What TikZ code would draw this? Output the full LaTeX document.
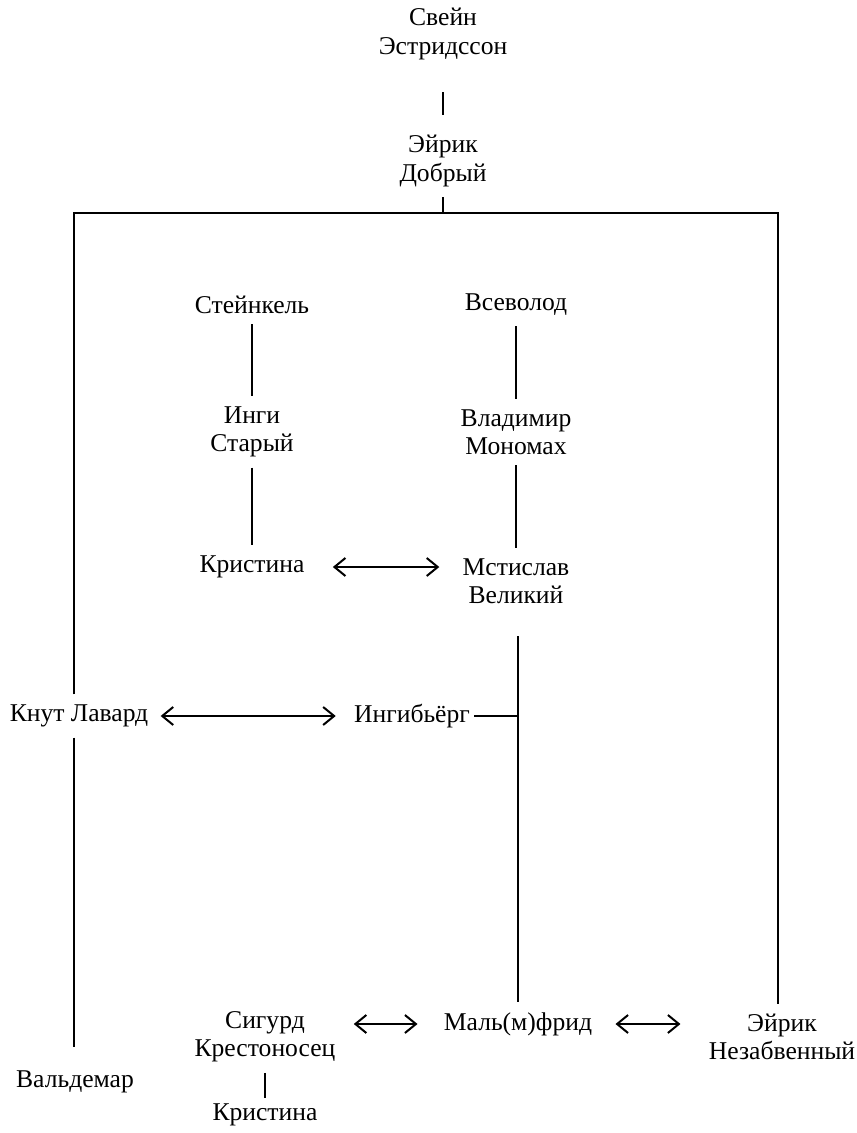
\documentclass[tikz,border=0pt]{standalone}
\usepackage{fontspec}
\setmainfont{Liberation Serif}
\usetikzlibrary{arrows.meta}

\begin{document}
\begin{tikzpicture}[x=0.5pt,y=-0.5pt,>={Straight Barb[length=5.5pt,width=9pt]},
  person/.style={align=center,inner sep=5pt,font=\fontsize{12.8}{14.2}\selectfont},
  kin/.style={line width=1pt},
  wed/.style={kin,<->}]
\useasboundingbox (0,0) rectangle (856,1133);
\node[person] (sven) at (443,34) {Свейн\\Эстридссон};
\node[person] (eirik) at (443,161) {Эйрик\\Добрый};
\node[person] (stein) at (252,305) {Стейнкель};
\node[person] (ingi) at (252,432) {Инги\\Старый};
\node[person] (kris) at (252,567) {Кристина};
\node[person] (vsev) at (516,305) {Всеволод};
\node[person] (vlad) at (516,432) {Владимир\\Мономах};
\node[person] (msti) at (516,581) {Мстислав\\Великий};
\node[person] (knut) at (79,716) {Кнут Лавард};
\node[person] (ingib) at (412,716) {Ингибьёрг};
\node[person] (sigurd) at (265,1037) {Сигурд\\Крестоносец};
\node[person] (malm) at (518,1024) {Маль(м)фрид};
\node[person] (eirikn) at (782,1037) {Эйрик\\Незабвенный};
\node[person] (valde) at (75,1082) {Вальдемар};
\node[person] (kris2) at (265,1115) {Кристина};
\coordinate (bl) at (74,213);
\coordinate (br) at (778,213);
\draw[kin,shorten <=11pt,shorten >=5pt] (sven) -- (eirik);
\draw[kin] (eirik) -- (eirik |- bl);
\draw[kin] (knut.north -| bl) -- (bl) -- (br) -- (eirikn.north -| br);
\draw[kin,shorten >=7pt] (knut.south -| bl) -- (valde.north -| bl);
\draw[kin] (stein) -- (ingi);
\draw[kin] (ingi) -- (kris);
\draw[kin] (vsev) -- (vlad);
\draw[kin] (vlad) -- (msti);
\draw[kin,shorten <=11pt] (msti.south -| malm) -- (malm);
\draw[kin,shorten <=-3pt] (ingib) -- (ingib -| malm);
\draw[kin,shorten >=-2pt] (sigurd) -- (kris2);
\draw[wed,shorten <=9pt,shorten >=6.5pt] (kris) -- (kris -| msti.west);
\draw[wed,shorten <=1pt,shorten >=4pt] (knut) -- (ingib);
\draw[wed,shorten <=4pt,shorten >=8pt] (sigurd.east |- malm) -- (malm);
\draw[wed,shorten <=6.5pt,shorten >=9pt] (malm) -- (malm -| eirikn.west);
\end{tikzpicture}
\end{document}
